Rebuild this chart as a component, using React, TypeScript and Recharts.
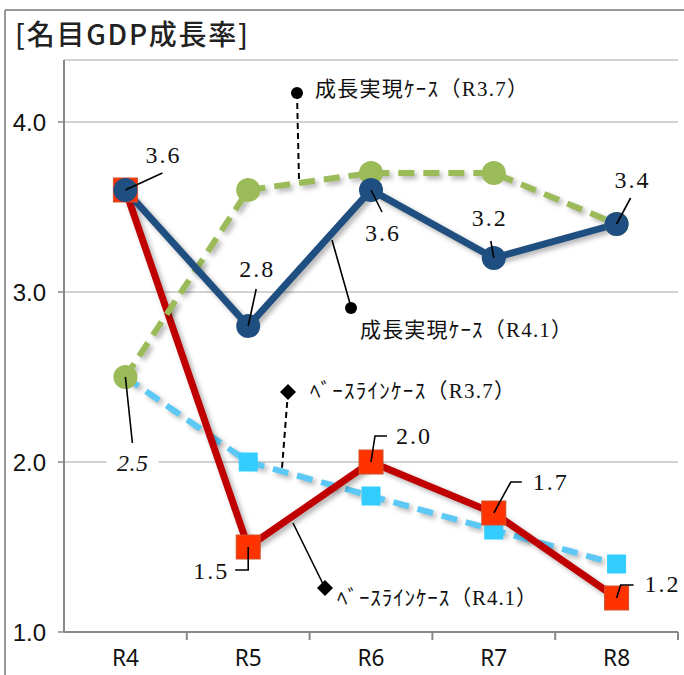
import { LineChart, Line, XAxis, YAxis, CartesianGrid, LabelList } from 'recharts'

const CATEGORIES = ['R4', 'R5', 'R6', 'R7', 'R8']
const GROWTH_R41 = [3.6, 2.8, 3.6, 3.2, 3.4]
const GROWTH_R37 = [2.5, 3.6, 3.7, 3.7, 3.4]
const BASE_R41 = [3.6, 1.5, 2.0, 1.7, 1.2]
const BASE_R37 = [2.5, 2.0, 1.8, 1.6, 1.4]
const Y_TICKS = [1, 2, 3, 4]

const W = 684
const H = 675
const PLOT_LEFT = 64
const PLOT_RIGHT = 678
const PLOT_TOP = 60
const PLOT_BOTTOM = 632
const HALF_BAND = (PLOT_RIGHT - PLOT_LEFT) / CATEGORIES.length / 2

const data = CATEGORIES.map((cat, i) => ({
  cat,
  g41: GROWTH_R41[i],
  g37: GROWTH_R37[i],
  b41: BASE_R41[i],
  b37: BASE_R37[i],
}))

const NUM_FONT = "'Liberation Serif', 'DejaVu Serif', serif"
const JP_FONT = "'Liberation Serif', 'Noto Sans CJK JP', serif"

// leader line path (relative to point) + text centre, per point index
type LabelSpec = { path: number[][]; tx: number; ty: number; italic?: boolean; bg?: boolean } | null

const BLUE_LABELS: LabelSpec[] = [
  { path: [[0, 0], [37, -17]], tx: 37, ty: -35 },
  { path: [[0, 0], [8, -37]], tx: 8, ty: -57 },
  { path: [[0, 0], [11, 22]], tx: 11, ty: 43 },
  { path: [[0, 0], [-3, -17]], tx: -5, ty: -40 },
  { path: [[0, 0], [14, -26]], tx: 15, ty: -44 },
]
const RED_LABELS: LabelSpec[] = [
  null,
  { path: [[0, 0], [0, 23], [-13, 23]], tx: -38, ty: 24 },
  { path: [[0, 0], [4, -26], [16, -26]], tx: 42, ty: -26 },
  { path: [[0, 0], [17, -31], [28, -31]], tx: 56, ty: -31 },
  { path: [[0, 0], [4, -13], [17, -13]], tx: 45, ty: -14 },
]
const GREEN_LABELS: LabelSpec[] = [
  { path: [[0, 0], [7, 66]], tx: 7, ty: 86, italic: true, bg: true },
  null,
  null,
  null,
  null,
]

function makeLabel(specs: LabelSpec[]) {
  return (props: any) => {
    const { x, y, value, index } = props
    const s = specs[index]
    if (!s || x == null || y == null) return null
    const d = s.path.map((p, i) => `${i ? 'L' : 'M'}${x + p[0]},${y + p[1]}`).join(' ')
    return (
      <g>
        <path d={d} fill="none" stroke="#000" strokeWidth={1.6} />
        {s.bg && <rect x={x + s.tx - 26} y={y + s.ty - 12} width={52} height={24} fill="#fff" />}
        <text
          x={x + s.tx}
          y={y + s.ty}
          textAnchor="middle"
          dominantBaseline="central"
          fontFamily={NUM_FONT}
          fontSize={24}
          fontStyle={s.italic ? 'italic' : 'normal'}
          textLength={s.italic ? 31 : 34}
          lengthAdjust="spacing"
          fill="#111"
        >
          {Number(value).toFixed(1)}
        </text>
      </g>
    )
  }
}

function squareDot(size: number, fill: string, stroke: string, skip: number[] = []) {
  return (props: any) => {
    const { cx, cy, index } = props
    if (cx == null || cy == null || skip.includes(index)) return <g key={index} />
    return (
      <rect key={index} x={cx - size / 2} y={cy - size / 2} width={size} height={size} fill={fill} stroke={stroke} strokeWidth={1} />
    )
  }
}

function XTick(props: any) {
  const { x, payload } = props
  return (
    <g>
      <line x1={x + HALF_BAND} x2={x + HALF_BAND} y1={PLOT_BOTTOM} y2={PLOT_BOTTOM + 8} stroke="#888" strokeWidth={2} />
      <text
        x={x}
        y={666}
        textAnchor="middle"
        fontFamily="'Noto Sans', sans-serif"
        fontSize={24}
        textLength={27}
        lengthAdjust="spacingAndGlyphs"
        fill="#111"
      >
        {payload.value}
      </text>
    </g>
  )
}

function Callouts() {
  return (
    <svg width={W} height={H} style={{ position: 'absolute', left: 0, top: 0, pointerEvents: 'none' }}>
      <line x1={5} y1={10} x2={W} y2={10} stroke="#999" strokeWidth={2} />
      <line x1={5} y1={10} x2={5} y2={H} stroke="#999" strokeWidth={2} />
      <text
        x={15}
        y={45}
        fontFamily="'Noto Sans CJK JP', sans-serif"
        fontWeight={500}
        fontSize={28}
        textLength={233}
        lengthAdjust="spacing"
        fill="#222"
      >
        [名目GDP成長率]
      </text>

      {/* 成長実現ケース (R3.7) */}
      <line x1={297} y1={93} x2={299} y2={180} stroke="#000" strokeWidth={2} strokeDasharray="6 4" />
      <circle cx={297} cy={93} r={6} fill="#000" />
      <text x={315} y={89} dominantBaseline="central" fontFamily={JP_FONT} fontSize={21} textLength={213} lengthAdjust="spacing" fill="#111">
        成長実現ｹｰｽ（R3.7）
      </text>

      {/* 成長実現ケース (R4.1) */}
      <line x1={332} y1={240} x2={351} y2={307} stroke="#000" strokeWidth={1.6} />
      <circle cx={351} cy={308} r={6} fill="#000" />
      <text x={360} y={330} dominantBaseline="central" fontFamily={JP_FONT} fontSize={21} textLength={212} lengthAdjust="spacing" fill="#111">
        成長実現ｹｰｽ（R4.1）
      </text>

      {/* ベースラインケース (R3.7) */}
      <line x1={288} y1={392} x2={282} y2={468} stroke="#000" strokeWidth={2} strokeDasharray="6 4" />
      <path d="M288,384 L296,392 L288,400 L280,392 Z" fill="#000" />
      <text x={310} y={391} dominantBaseline="central" fontFamily={JP_FONT} fontSize={21} textLength={205} lengthAdjust="spacing" fill="#111">
        ﾍﾞｰｽﾗｲﾝｹｰｽ（R3.7）
      </text>

      {/* ベースラインケース (R4.1) */}
      <line x1={293} y1={523} x2={325} y2={588} stroke="#000" strokeWidth={1.6} />
      <path d="M325,580 L333,588 L325,596 L317,588 Z" fill="#000" />
      <text x={337} y={598} dominantBaseline="central" fontFamily={JP_FONT} fontSize={21} textLength={200} lengthAdjust="spacing" fill="#111">
        ﾍﾞｰｽﾗｲﾝｹｰｽ（R4.1）
      </text>
    </svg>
  )
}

export default function App() {
  return (
    <div style={{ position: 'absolute', left: 0, top: 0, width: W, height: H, background: '#fff', overflow: 'hidden' }}>
      <style>{`.shadow { filter: drop-shadow(3px 3px 2.5px rgba(0,0,0,0.3)); }`}</style>
      <LineChart width={W} height={H} data={data} margin={{ top: PLOT_TOP, right: W - PLOT_RIGHT, bottom: 0, left: 0 }}>
        <CartesianGrid vertical={false} stroke="#a6a6a6" strokeWidth={1} />
        <XAxis
          dataKey="cat"
          height={H - PLOT_BOTTOM}
          padding={{ left: HALF_BAND, right: HALF_BAND }}
          axisLine={{ stroke: '#888', strokeWidth: 2 }}
          tickLine={false}
          tick={<XTick />}
          interval={0}
        />
        <YAxis
          width={PLOT_LEFT}
          domain={[1, 1 + (PLOT_BOTTOM - PLOT_TOP) / 170]}
          ticks={Y_TICKS}
          allowDataOverflow
          axisLine={{ stroke: '#888', strokeWidth: 2 }}
          tickLine={{ stroke: '#888', strokeWidth: 1.5 }}
          tickSize={6}
          tickMargin={12}
          tickFormatter={(v: number) => v.toFixed(1)}
          tick={{ fontFamily: "'Liberation Sans', sans-serif", fontSize: 24, fill: '#111' }}
        />
        <Line
          className="shadow"
          dataKey="b37"
          stroke="#5BC8F5"
          strokeWidth={6}
          strokeDasharray="16 9"
          dot={squareDot(18, '#33CCFF', '#33CCFF', [0])}
          isAnimationActive={false}
        />
        <Line
          className="shadow"
          dataKey="b41"
          stroke="#C00000"
          strokeWidth={7}
          dot={squareDot(24, '#FF3300', '#D0502A')}
          isAnimationActive={false}
        >
          <LabelList dataKey="b41" content={makeLabel(RED_LABELS)} />
        </Line>
        <Line
          className="shadow"
          dataKey="g37"
          stroke="#9BBB59"
          strokeWidth={6}
          strokeDasharray="16 9"
          dot={{ r: 12, fill: '#9BBB59', stroke: 'none' }}
          isAnimationActive={false}
        >
          <LabelList dataKey="g37" content={makeLabel(GREEN_LABELS)} />
        </Line>
        <Line
          className="shadow"
          dataKey="g41"
          stroke="#1F4E80"
          strokeWidth={7}
          dot={{ r: 12, fill: '#1F4E80', stroke: 'none' }}
          isAnimationActive={false}
        >
          <LabelList dataKey="g41" content={makeLabel(BLUE_LABELS)} />
        </Line>
      </LineChart>
      <Callouts />
    </div>
  )
}
